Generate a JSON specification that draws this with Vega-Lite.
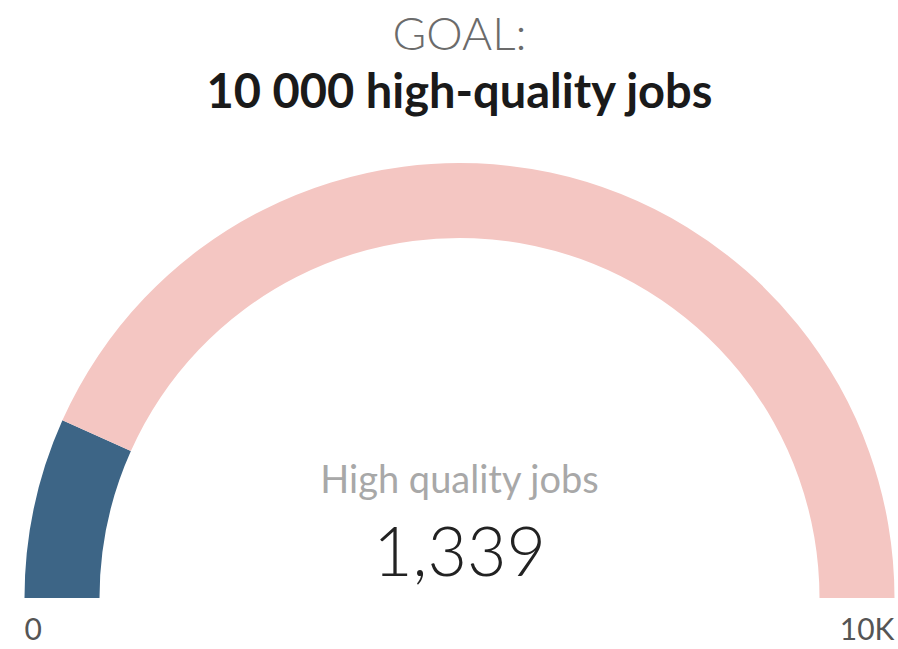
{
  "$schema": "https://vega.github.io/schema/vega-lite/v6.json",
  "autosize": {"type": "none"},
  "width": 877,
  "height": 102,
  "padding": {"left": 21, "top": 547, "right": 0, "bottom": 0},
  "background": "white",
  "config": {"view": {"stroke": null}, "font": "Lato"},
  "data": {"values": [
    {"part": "achieved", "jobs": 1339},
    {"part": "remaining", "jobs": 8661}
  ]},
  "layer": [
    {
      "mark": {"type": "arc", "outerRadius": 435, "innerRadius": 360},
      "encoding": {
        "theta": {"field": "jobs", "type": "quantitative", "stack": true,
          "scale": {"domain": [0, 10000], "range": [-1.5708, 1.5708]}},
        "color": {"field": "part", "type": "nominal",
          "scale": {"domain": ["achieved", "remaining"], "range": ["#3d6586", "#f4c6c2"]},
          "legend": null},
        "order": {"field": "part", "sort": "ascending"}
      }
    },
    {
      "transform": [{"filter": "datum.part == 'achieved'"}],
      "mark": {"type": "text", "dy": -548, "fontSize": 46, "fontWeight": 300, "color": "#6b6b6b", "font": "Lato", "baseline": "alphabetic"},
      "encoding": {"text": {"value": "GOAL:"}}
    },
    {
      "transform": [{"filter": "datum.part == 'achieved'"}],
      "mark": {"type": "text", "dy": -490, "fontSize": 47, "fontWeight": "bold", "color": "#1a1a1a", "font": "Lato", "baseline": "alphabetic"},
      "encoding": {"text": {"value": "10 000 high-quality jobs"}}
    },
    {
      "transform": [{"filter": "datum.part == 'achieved'"}],
      "mark": {"type": "text", "dy": -116, "fontSize": 38, "color": "#a8a8a8", "font": "Lato", "baseline": "middle"},
      "encoding": {"text": {"value": "High quality jobs"}}
    },
    {
      "transform": [{"filter": "datum.part == 'achieved'"}],
      "mark": {"type": "text", "dy": -42, "fontSize": 68, "fontWeight": 300, "color": "#222222", "font": "Lato", "baseline": "middle"},
      "encoding": {"text": {"field": "jobs", "type": "quantitative", "format": ","}}
    },
    {
      "data": {"values": [{"label": "0", "jobs": 0}]},
      "mark": {"type": "text", "radius": 435, "align": "left", "baseline": "middle", "dy": 33, "fontSize": 30, "color": "#555555", "font": "Lato"},
      "encoding": {
        "theta": {"field": "jobs", "type": "quantitative"},
        "text": {"field": "label"}
      }
    },
    {
      "data": {"values": [{"label": "10K", "jobs": 10000}]},
      "mark": {"type": "text", "radius": 435, "align": "right", "baseline": "middle", "dy": 33, "fontSize": 30, "color": "#555555", "font": "Lato"},
      "encoding": {
        "theta": {"field": "jobs", "type": "quantitative"},
        "text": {"field": "label"}
      }
    }
  ]
}
